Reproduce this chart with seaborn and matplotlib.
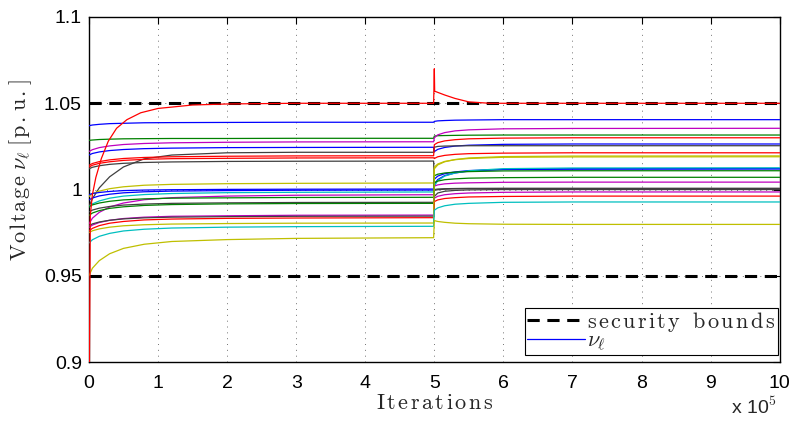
import numpy as np
import pandas as pd
import matplotlib
matplotlib.use("Agg")
import matplotlib.pyplot as plt
import seaborn as sns
from matplotlib.lines import Line2D

# ---- data (iterations in units of 1e5) ----
X = [0, 0.05, 0.15, 0.3, 0.5, 0.8, 1.2, 2, 3, 4.99, 5.0, 5.05, 5.15, 5.3, 5.5, 6, 7, 10]

RED_X = [0, 0.02, 0.05, 0.1, 0.18, 0.28, 0.4, 0.55, 0.75, 1.0, 1.5, 2, 3, 4.99, 5.0, 5.005, 5.15, 5.3, 5.5, 5.8, 7, 10]
v_red1 = [0.85, 0.985, 0.997, 1.007, 1.018, 1.028, 1.0355, 1.0405, 1.0445, 1.047, 1.049, 1.0496, 1.05, 1.05,
          1.07, 1.057, 1.0548, 1.0528, 1.0508, 1.05, 1.05, 1.05]

v_blue1 = [1.037, 1.0374, 1.0378, 1.0382, 1.0384, 1.0387, 1.0388, 1.0389, 1.039, 1.039, 1.0395, 1.0398, 1.04, 1.0402, 1.0403, 1.0405, 1.0405, 1.0405]
v_green1 = [1.0285, 1.0287, 1.029, 1.0292, 1.0294, 1.0295, 1.0296, 1.0296, 1.0297, 1.0297, 1.031, 1.0312, 1.0313, 1.0314, 1.0315, 1.0316, 1.0316, 1.0316]
v_mag1 = [1.022, 1.0231, 1.0243, 1.0253, 1.0261, 1.0267, 1.0271, 1.0274, 1.0276, 1.0277, 1.030, 1.0317, 1.033, 1.034, 1.0346, 1.0352, 1.0354, 1.0355]
v_blue2 = [1.020, 1.0209, 1.0218, 1.0226, 1.0232, 1.0237, 1.024, 1.0243, 1.0244, 1.0245, 1.022, 1.0233, 1.0244, 1.0252, 1.0257, 1.0262, 1.0264, 1.0264]
v_black1 = [0.990, 0.9947, 1.001, 1.0074, 1.0131, 1.0178, 1.02, 1.0213, 1.0216, 1.0216, 1.0245, 1.025, 1.0252, 1.0253, 1.0254, 1.0254, 1.0254, 1.0254]
v_red2 = [1.014, 1.0151, 1.0162, 1.0172, 1.018, 1.0186, 1.019, 1.0193, 1.0195, 1.0196, 1.026, 1.0272, 1.0282, 1.0289, 1.0294, 1.0298, 1.03, 1.03]
v_red3 = [1.013, 1.0141, 1.0152, 1.0161, 1.0169, 1.0175, 1.0179, 1.0181, 1.0183, 1.0184, 1.018, 1.019, 1.0198, 1.0204, 1.0208, 1.0211, 1.0213, 1.0213]
v_black2 = [1.012, 1.0129, 1.0138, 1.0146, 1.0152, 1.0157, 1.016, 1.0163, 1.0164, 1.0165, 1.0, 1.0003, 1.0005, 1.0006, 1.0007, 1.0007, 1.0007, 1.0007]
v_yel1 = [0.996, 0.9976, 0.9991, 1.0005, 1.0016, 1.0025, 1.003, 1.0034, 1.0036, 1.0038, 1.013, 1.0148, 1.0163, 1.0173, 1.018, 1.0187, 1.0189, 1.019]
v_blue3 = [0.997, 0.9977, 0.9983, 0.9989, 0.9994, 0.9997, 0.9999, 1.0001, 1.0002, 1.0003, 1.006, 1.0078, 1.0092, 1.0102, 1.011, 1.0116, 1.0118, 1.0119]
v_blue4 = [0.994, 0.9951, 0.9963, 0.9973, 0.9981, 0.9987, 0.9991, 0.9994, 0.9996, 0.9997, 1.003, 1.0058, 1.0081, 1.0096, 1.0107, 1.0117, 1.0121, 1.0122]
v_cyan1 = [0.990, 0.9917, 0.9934, 0.995, 0.9962, 0.9971, 0.9977, 0.9982, 0.9984, 0.9986, 1.002, 1.0052, 1.0078, 1.0096, 1.0109, 1.0121, 1.0125, 1.0126]
v_mag2 = [0.980, 0.9834, 0.9868, 0.9899, 0.9922, 0.9941, 0.9953, 0.9962, 0.9967, 0.997, 1.002, 1.0027, 1.0033, 1.0037, 1.0039, 1.0042, 1.0043, 1.0043]
v_green2 = [0.990, 0.9911, 0.9922, 0.9932, 0.994, 0.9946, 0.995, 0.9952, 0.9954, 0.9955, 1.004, 1.0049, 1.0057, 1.0062, 1.0066, 1.0069, 1.0071, 1.0071]
v_black3 = [0.987, 0.9881, 0.9892, 0.9902, 0.991, 0.9916, 0.992, 0.9923, 0.9925, 0.9926, 0.9995, 0.9999, 1.0002, 1.0004, 1.0005, 1.0006, 1.0006, 1.0006]
v_green3 = [0.985, 0.9864, 0.9878, 0.9891, 0.99, 0.9908, 0.9913, 0.9917, 0.9919, 0.992, 1.008, 1.0089, 1.0096, 1.0101, 1.0104, 1.0108, 1.0109, 1.0109]
v_mag3 = [0.978, 0.9794, 0.9809, 0.9822, 0.9832, 0.984, 0.9845, 0.9848, 0.9851, 0.9852, 0.995, 0.9961, 0.997, 0.9976, 0.998, 0.9984, 0.9986, 0.9986]
v_black4 = [0.979, 0.9801, 0.9812, 0.9822, 0.983, 0.9836, 0.984, 0.9843, 0.9845, 0.9846, 0.996, 0.998, 0.999, 0.9995, 0.9998, 1.0, 1.0, 1.0]
v_red4 = [0.976, 0.9775, 0.9791, 0.9805, 0.9815, 0.9824, 0.9829, 0.9833, 0.9835, 0.9837, 0.993, 0.994, 0.9948, 0.9953, 0.9957, 0.996, 0.9962, 0.9962]
v_yel2 = [0.975, 0.9761, 0.9772, 0.9782, 0.979, 0.9796, 0.98, 0.9803, 0.9805, 0.9806, 1.012, 1.0143, 1.0161, 1.0174, 1.0183, 1.0191, 1.0194, 1.0195]
v_cyan2 = [0.969, 0.9709, 0.9729, 0.9746, 0.976, 0.977, 0.9777, 0.9782, 0.9785, 0.9787, 0.988, 0.9894, 0.9906, 0.9915, 0.992, 0.9926, 0.9928, 0.9928]
v_yel3 = [0.950, 0.9544, 0.9588, 0.9628, 0.9659, 0.9683, 0.9699, 0.971, 0.9717, 0.9721, 0.982, 0.9815, 0.981, 0.9805, 0.9802, 0.9799, 0.9798, 0.9798]

BOUNDS = [0.95, 1.05]
X_TICKS = list(range(0, 11))
Y_TICKS = [0.9, 0.95, 1.0, 1.05, 1.1]
Y_TICKLABELS = ["0.9", "0.95", "1", "1.05", "1.1"]

# MATLAB classic colour order
C = {"b": (0, 0, 1), "g": (0, 0.5, 0), "r": (1, 0, 0), "c": (0, 0.75, 0.75),
     "m": (0.75, 0, 0.75), "y": (0.75, 0.75, 0), "k": (0.25, 0.25, 0.25)}

series = [
    ("blue1", "b", X, v_blue1), ("green1", "g", X, v_green1), ("mag1", "m", X, v_mag1),
    ("blue2", "b", X, v_blue2), ("black1", "k", X, v_black1), ("red2", "r", X, v_red2),
    ("red3", "r", X, v_red3), ("black2", "k", X, v_black2), ("yel1", "y", X, v_yel1),
    ("blue3", "b", X, v_blue3), ("blue4", "b", X, v_blue4), ("cyan1", "c", X, v_cyan1),
    ("mag2", "m", X, v_mag2), ("green2", "g", X, v_green2), ("black3", "k", X, v_black3),
    ("green3", "g", X, v_green3), ("mag3", "m", X, v_mag3), ("black4", "k", X, v_black4),
    ("red4", "r", X, v_red4), ("yel2", "y", X, v_yel2), ("cyan2", "c", X, v_cyan2),
    ("yel3", "y", X, v_yel3), ("red1", "r", RED_X, v_red1),
]

rows = []
for name, col, xs, vs in series:
    for xx, vv in zip(xs, vs):
        rows.append({"line": name, "x": xx, "v": vv})
df = pd.DataFrame(rows)
palette = {name: C[col] for name, col, _, _ in series}


def spaced(word, gap=0.13, wgap=0.45):
    """LaTeX-like roman text with the loose letter spacing of the original."""
    out = []
    for ch in word:
        out.append(r"\hspace{%g}" % wgap if ch == " " else ch)
    return (r"\hspace{%g}" % gap).join(out)


# ---- style ----
sns.set_style("white")
plt.rcParams["font.family"] = ["Liberation Sans", "DejaVu Sans"]
plt.rcParams["mathtext.fontset"] = "cm"

fig = plt.figure(figsize=(7.94, 4.25), dpi=100)
ax = fig.add_axes([0.112, 0.148, 0.870, 0.812])

for b in BOUNDS:
    ax.axhline(b, color="black", lw=2.2, ls=(0, (4, 2.5)), zorder=2)

sns.lineplot(data=df, x="x", y="v", hue="line", palette=palette, estimator=None,
             sort=False, lw=0.9, legend=False, ax=ax, zorder=3)

ax.set_xlim(0, 10)
ax.set_ylim(0.9, 1.1)
ax.set_xticks(X_TICKS)
ax.set_xticklabels([str(t) for t in X_TICKS])
ax.set_yticks(Y_TICKS)
ax.set_yticklabels(Y_TICKLABELS)
ax.tick_params(direction="in", length=5, width=0.8, top=True, right=True,
               labelsize=14, colors="black")
ax.tick_params(axis="x", pad=9)
ax.tick_params(axis="y", pad=5)
ax.grid(True, ls=(0, (1, 5)), color="0.45", lw=0.7)
ax.set_axisbelow(True)
for s in ax.spines.values():
    s.set_visible(True)
    s.set_color("black")
    s.set_linewidth(1.0)

ylab = (r"$\mathrm{" + spaced("Voltage", 0.09) + r"}\hspace{0.3}\nu_\ell\hspace{0.3}\mathrm{[\hspace{0.1}"
        + spaced("p.u.", 0.1) + r"\hspace{0.1}]}$")
ax.set_ylabel(ylab, fontsize=16)
ax.yaxis.set_label_coords(-0.079, 0.558)
ax.set_xlabel(r"$\mathrm{" + spaced("Iterations", 0.13) + "}$", fontsize=16, labelpad=1)
fig.text(0.921, 0.016, r"x 10$^5$", fontsize=14, ha="left", va="bottom")

handles = [Line2D([], [], color="black", lw=2.2, ls=(0, (4, 2.5))),
           Line2D([], [], color="blue", lw=0.9)]
leg = ax.legend(handles, [r"$\mathrm{" + spaced("security bounds", 0.12) + "}$", r"$\nu_\ell$"],
                loc="lower right", bbox_to_anchor=(0.997, 0.02), borderaxespad=0,
                fontsize=16, frameon=True, fancybox=False, framealpha=1,
                handlelength=2.6, handletextpad=0.1, labelspacing=-0.15,
                borderpad=0.1)
leg.get_frame().set_edgecolor("black")
leg.get_frame().set_linewidth(0.8)

fig.savefig("out.png", dpi=100)
